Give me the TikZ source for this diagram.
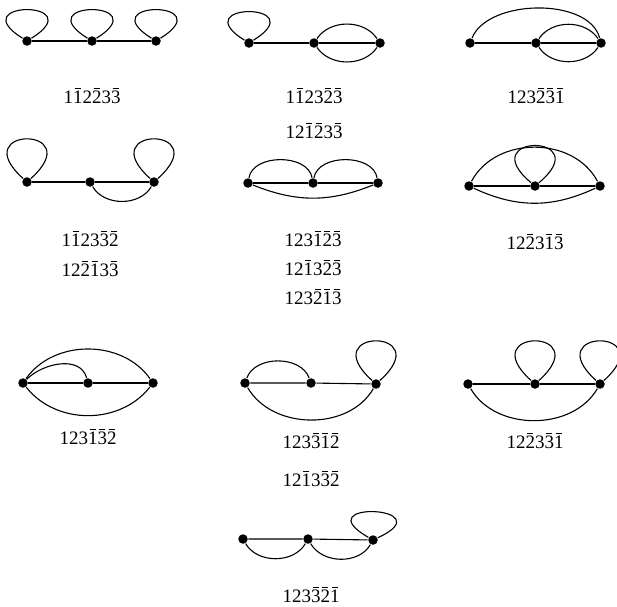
\documentclass[tikz,border=0pt]{standalone}
\usepackage{fontspec}
\setmainfont{Liberation Serif}
\newcommand{\nb}[1]{\ooalign{#1\cr\hidewidth\rule[0.74em]{0.34em}{0.055em}\hidewidth\cr}}

\begin{document}
\begin{tikzpicture}[x=1pt, y=1pt, line width=1.1pt, font=\fontsize{19}{22}\selectfont,
	dot/.style={circle, fill, inner sep=0pt, minimum size=9.5pt},
	lbl/.style={inner sep=0pt},
	flatloop/.style={out=148, in=32, distance=72pt},
	tallloop/.style={out=138, in=42, distance=79pt}]
	\useasboundingbox (0,0) rectangle (617,-606);
	% row 1
	\node[dot] (a1) at (27,-41) {};
	\node[dot] (a2) at (92,-41) {};
	\node[dot] (a3) at (156,-41) {};
	\draw (a1) -- (a2) -- (a3);
	\draw (a1) to[flatloop] (a1) (a2) to[flatloop] (a2) (a3) to[flatloop] (a3);
	\node[lbl] (la) at (92,-97) {1\nb{1}2\nb{2}3\nb{3}};
	\node[dot] (b1) at (249,-43) {};
	\node[dot] (b2) at (314,-43) {};
	\node[dot] (b3) at (380,-43) {};
	\draw (b1) -- (b2) -- (b3);
	\draw (b1) to[flatloop] (b1);
	\draw (b2) to[out=56, in=124] (b3) (b2) to[out=-56, in=-124] (b3);
	\node[lbl] (lb1) at (314,-97) {1\nb{1}23\nb{2}\nb{3}};
	\node[lbl] (lb2) at (314,-132) {12\nb{1}\nb{2}3\nb{3}};
	\node[dot] (c1) at (470,-43) {};
	\node[dot] (c2) at (536,-43) {};
	\node[dot] (c3) at (601,-43) {};
	\draw (c1) -- (c2) -- (c3);
	\draw (c2) to[out=56, in=124] (c3) (c2) to[out=-56, in=-124] (c3);
	\draw (c1) to[out=68, in=105, looseness=0.85] (c3);
	\node[lbl] (lc) at (536,-97) {123\nb{2}\nb{3}\nb{1}};
	% row 2
	\node[dot] (d1) at (27,-182) {};
	\node[dot] (d2) at (90,-182) {};
	\node[dot] (d3) at (154,-182) {};
	\draw (d1) -- (d2) -- (d3);
	\draw (d1) to[tallloop] (d1) (d3) to[tallloop] (d3);
	\draw (d2) to[out=-60, in=-120] (d3);
	\node[lbl] (ld1) at (90,-240) {1\nb{1}23\nb{3}\nb{2}};
	\node[lbl] (ld2) at (90,-270) {12\nb{2}\nb{1}3\nb{3}};
	\node[dot] (e1) at (248,-183) {};
	\node[dot] (e2) at (313,-183) {};
	\node[dot] (e3) at (378,-183) {};
	\draw (e1) -- (e2) -- (e3);
	\draw (e1) to[out=80, in=100] (e2) (e2) to[out=80, in=100] (e3);
	\draw (e1) to[out=-22, in=-158] (e3);
	\node[lbl] (le1) at (313,-240) {123\nb{1}\nb{2}\nb{3}};
	\node[lbl] (le2) at (313,-269) {12\nb{1}3\nb{2}\nb{3}};
	\node[lbl] (le3) at (313,-298) {123\nb{2}\nb{1}\nb{3}};
	\node[dot] (f1) at (469,-186) {};
	\node[dot] (f2) at (535,-186) {};
	\node[dot] (f3) at (600,-186) {};
	\draw (f1) -- (f2) -- (f3);
	\draw (f1) to[out=62, in=118, looseness=1.05] (f3);
	\draw (f1) to[out=-25, in=-155] (f3);
	\draw (f2) to[out=140, in=40, distance=77pt] (f2);
	\node[lbl] (lf) at (535,-243) {12\nb{2}3\nb{1}\nb{3}};
	% row 3
	\node[dot] (g1) at (23,-383) {};
	\node[dot] (g2) at (88,-383) {};
	\node[dot] (g3) at (153,-383) {};
	\draw (g1) -- (g2) -- (g3);
	\draw (g1) to[out=55, in=125] (g3) (g1) to[out=-52, in=-128] (g3);
	\draw (g1) to[out=45, in=105] (g2);
	\node[lbl] (lg) at (88,-438) {123\nb{1}\nb{3}\nb{2}};
	\node[dot] (h1) at (245,-383) {};
	\node[dot] (h2) at (311,-383) {};
	\node[dot] (h3) at (376,-384) {};
	\draw (h1) -- (h2) -- (h3);
	\draw (h1) to[out=70, in=110] (h2);
	\draw (h1) to[out=-60, in=-120] (h3);
	\draw (h3) to[tallloop] (h3);
	\node[lbl] (lh1) at (311,-442) {123\nb{3}\nb{1}\nb{2}};
	\node[lbl] (lh2) at (311,-480) {12\nb{1}3\nb{3}\nb{2}};
	\node[dot] (i1) at (468,-384) {};
	\node[dot] (i2) at (535,-384) {};
	\node[dot] (i3) at (600,-384) {};
	\draw (i1) -- (i2) -- (i3);
	\draw (i2) to[tallloop] (i2) (i3) to[tallloop] (i3);
	\draw (i1) to[out=-60, in=-120] (i3);
	\node[lbl] (li) at (535,-442) {12\nb{2}3\nb{3}\nb{1}};
	% row 4
	\node[dot] (j1) at (243,-539) {};
	\node[dot] (j2) at (308,-539) {};
	\node[dot] (j3) at (373,-540) {};
	\draw (j1) -- (j2) -- (j3);
	\draw (j1) to[out=-60, in=-120] (j2) (j2) to[out=-60, in=-120] (j3);
	\draw (j3) to[out=150, in=25, distance=75pt] (j3);
	\node[lbl] (lj) at (311,-596) {123\nb{3}\nb{2}\nb{1}};
\end{tikzpicture}
\end{document}
